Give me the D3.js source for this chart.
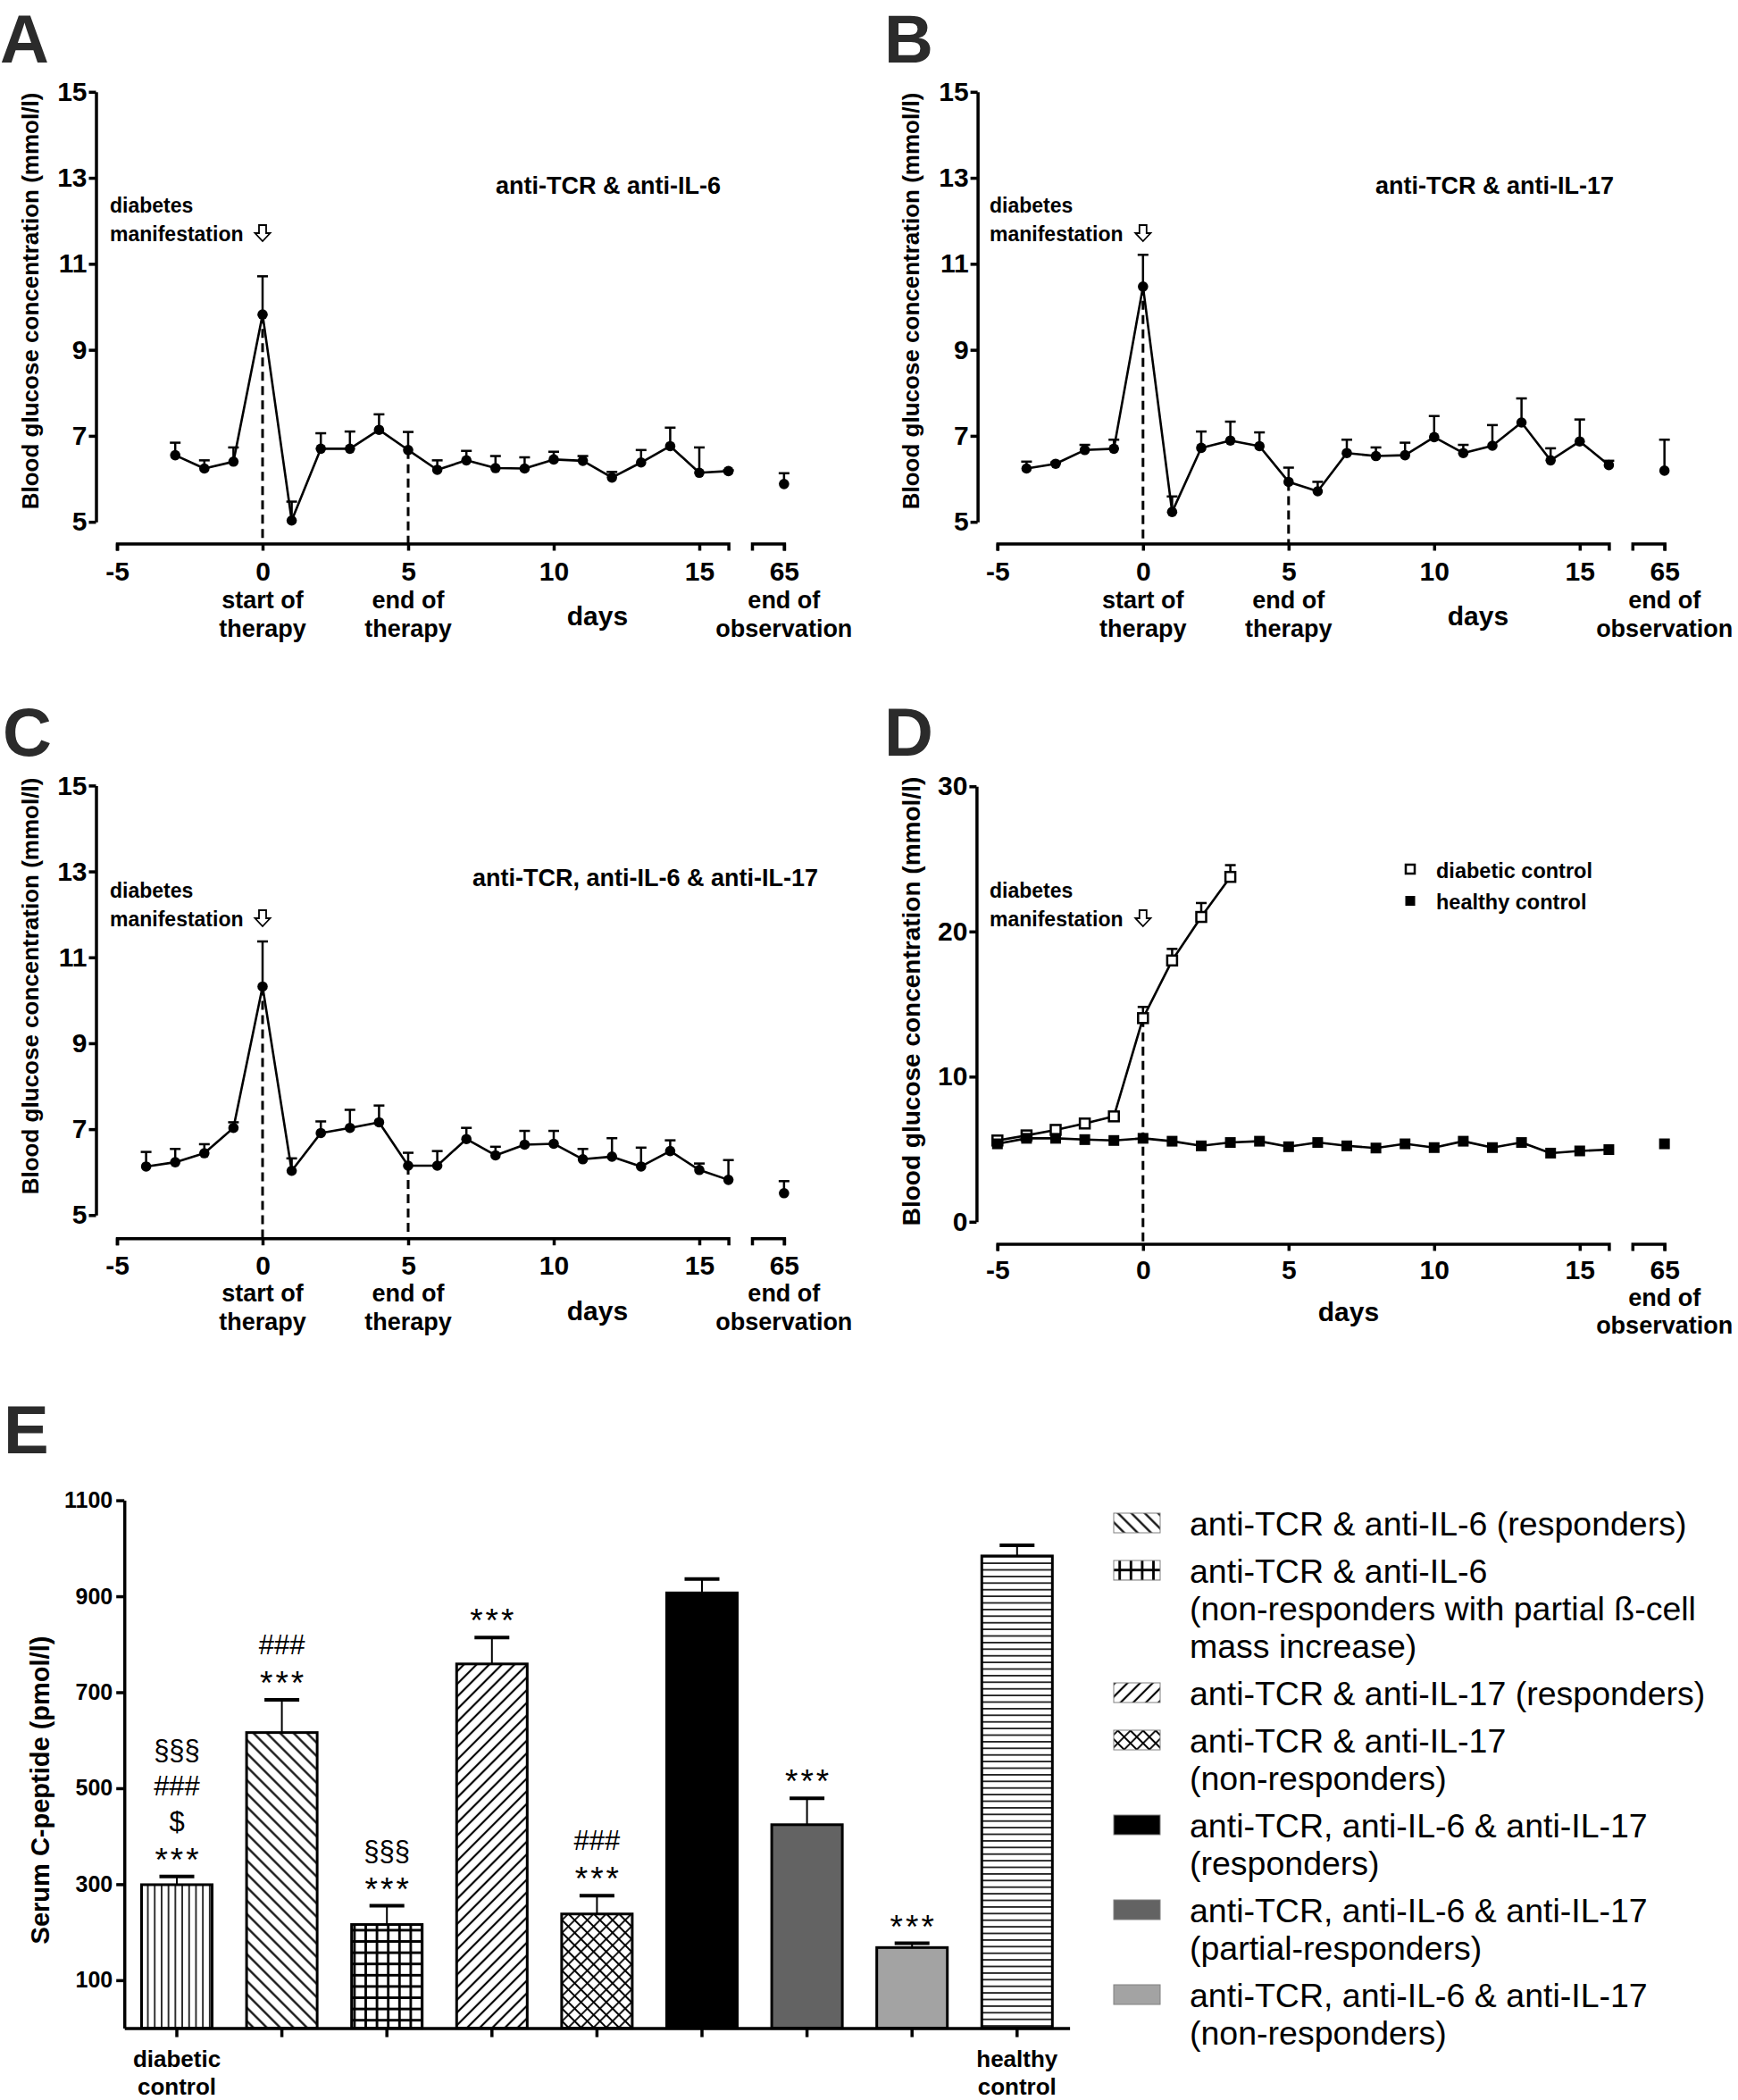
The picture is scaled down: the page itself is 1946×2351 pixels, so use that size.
<!DOCTYPE html>
<html><head><meta charset="utf-8">
<script src="https://cdn.jsdelivr.net/npm/d3@7"></script>
<style>
body{margin:0;background:#fff;}
svg text{font-family:"Liberation Sans",Arial,Helvetica,sans-serif;}
</style></head><body>
<svg id="fig" width="1946" height="2351" xmlns="http://www.w3.org/2000/svg"></svg>
<script>
// ---------------- DATA ----------------
// Panel A: anti-TCR & anti-IL-6
const aDays = [-3,-2,-1,0,1,2,3,4,5,6,7,8,9,10,11,12,13,14,15,16];
const aMean = [6.55,6.24,6.40,9.82,5.03,6.70,6.70,7.14,6.67,6.21,6.43,6.25,6.24,6.45,6.42,6.03,6.38,6.76,6.14,6.18];
const aSem  = [0.29,0.19,0.33,0.89,0.44,0.36,0.40,0.36,0.42,0.22,0.22,0.28,0.26,0.18,0.11,0.13,0.29,0.43,0.59,0.02];
const aEnd  = [65, 5.88, 0.25];   // day, mean, sem

// Panel B: anti-TCR & anti-IL-17
const bDays = [-4,-3,-2,-1,0,1,2,3,4,5,6,7,8,9,10,11,12,13,14,15,16];
const bMean = [6.24,6.35,6.67,6.70,10.47,5.23,6.72,6.89,6.76,5.93,5.71,6.60,6.53,6.55,6.97,6.60,6.77,7.31,6.43,6.87,6.32];
const bSem  = [0.16,0.03,0.12,0.21,0.74,0.36,0.38,0.44,0.32,0.33,0.22,0.31,0.20,0.29,0.49,0.19,0.48,0.56,0.28,0.51,0.10];
const bEnd  = [65, 6.19, 0.72];

// Panel C: anti-TCR, anti-IL-6 & anti-IL-17
const cDays = [-4,-3,-2,-1,0,1,2,3,4,5,6,7,8,9,10,11,12,13,14,15,16];
const cMean = [6.13,6.23,6.44,7.03,10.32,6.03,6.91,7.03,7.16,6.15,6.15,6.77,6.39,6.64,6.66,6.30,6.36,6.13,6.49,6.05,5.82];
const cSem  = [0.34,0.31,0.21,0.13,1.05,0.29,0.27,0.42,0.39,0.30,0.34,0.26,0.20,0.32,0.30,0.24,0.43,0.44,0.25,0.15,0.46];
const cEnd  = [65, 5.51, 0.28];

// Panel D: controls
const dDiabDays = [-5,-4,-3,-2,-1,0,1,2,3];
const dDiabMean = [5.60,5.95,6.33,6.77,7.26,14.03,18.00,21.00,23.76];
const dDiabSem  = [0,0,0,0,0,0.77,0.80,0.96,0.81];
const dHealthDays = [-5,-4,-3,-2,-1,0,1,2,3,4,5,6,7,8,9,10,11,12,13,14,15,16];
const dHealthMean = [5.37,5.75,5.75,5.66,5.60,5.75,5.55,5.23,5.46,5.55,5.17,5.46,5.23,5.08,5.37,5.11,5.55,5.11,5.46,4.73,4.88,4.97];
const dHealthSem  = [0,0,0,0,0,0,0,0,0,0,0,0,0,0,0,0,0,0,0,0,0,0];
const dHealthEnd  = [65, 5.37, 0];
const dLegend = ["diabetic control", "healthy control"];

const panelTitles = ["anti-TCR & anti-IL-6", "anti-TCR & anti-IL-17", "anti-TCR, anti-IL-6 & anti-IL-17"];
const xTicks = [-5, 0, 5, 10, 15];
const xTickBreak = [65];
const yTicksABC = [5, 7, 9, 11, 13, 15];
const yTicksD = [0, 10, 20, 30];

// Panel E: serum C-peptide
const eGroups = ["diabetic control",
  "anti-TCR & anti-IL-6 (responders)",
  "anti-TCR & anti-IL-6 (non-responders)",
  "anti-TCR & anti-IL-17 (responders)",
  "anti-TCR & anti-IL-17 (non-responders)",
  "anti-TCR, anti-IL-6 & anti-IL-17 (responders)",
  "anti-TCR, anti-IL-6 & anti-IL-17 (partial-responders)",
  "anti-TCR, anti-IL-6 & anti-IL-17 (non-responders)",
  "healthy control"];
const eValues = [299, 616, 216, 759, 238, 907, 424, 168, 984];
const eSem    = [17, 68, 39, 55, 38, 29, 55, 9, 22];
const eSig    = [["§§§","###","$","***"], ["###","***"], ["§§§","***"], ["***"], ["###","***"], [], ["***"], ["***"], []];
const eAxisLabels = [["diabetic","control"], [], [], [], [], [], [], [], ["healthy","control"]];
const eTicks = [100, 300, 500, 700, 900, 1100];
const eLegend = [
  ["anti-TCR & anti-IL-6 (responders)"],
  ["anti-TCR & anti-IL-6", "(non-responders with partial ß-cell", "mass increase)"],
  ["anti-TCR & anti-IL-17 (responders)"],
  ["anti-TCR & anti-IL-17", "(non-responders)"],
  ["anti-TCR, anti-IL-6 & anti-IL-17", "(responders)"],
  ["anti-TCR, anti-IL-6 & anti-IL-17", "(partial-responders)"],
  ["anti-TCR, anti-IL-6 & anti-IL-17", "(non-responders)"]
];

// ---------------- STYLE ----------------
const eBarFills = ["url(#pVert)","url(#pBack)","url(#pGrid)","url(#pFwd)","url(#pCross)","#000","#636363","#a3a3a3","url(#pHoriz)"];
const eLegendFills = eBarFills.slice(1, 8);

const svg = d3.select("#fig");
const defs = svg.append("defs");
function pat(id, w, h, rot, d, sw) {
  const p = defs.append("pattern").attr("id", id).attr("patternUnits", "userSpaceOnUse")
    .attr("width", w).attr("height", h);
  if (rot) p.attr("patternTransform", `rotate(${rot})`);
  p.append("rect").attr("width", w).attr("height", h).attr("fill", "#fff");
  p.append("path").attr("d", d).attr("stroke", "#000").attr("stroke-width", sw).attr("fill", "none");
}
pat("pVert", 7.7, 10, 0, "M3.85,-1V11", 1.6);
pat("pHoriz", 10, 7.4, 0, "M-1,3.7H11", 1.6);
pat("pBack", 10.6, 10, -45, "M5.3,-1V11", 2.2);
pat("pFwd", 10, 10, 45, "M5,-1V11", 2.2);
pat("pCross", 10, 10, 45, "M5,-1V11M-1,5H11", 1.8);
pat("pGrid", 12.6, 12.6, 0, "M6.3,-1V13.6M-1,6.3H13.6", 2.8);

function styleAxis(sel, fs) {
  sel.select(".domain").attr("stroke", "#000").attr("stroke-width", 3.5);
  sel.selectAll(".tick line").attr("stroke", "#000").attr("stroke-width", 3.5);
  sel.selectAll(".tick text").attr("fill", "#000").style("font-size", fs + "px").style("font-weight", "bold");
}

const DAY_W = 32.6;
const LETTER_SIZE = "76px";

function drawLinePanel(cfg) {
  const g = svg.append("g");
  const x = d3.scaleLinear().domain([-5, 16]).range([cfg.x0, cfg.x0 + 21 * DAY_W]);
  const xb = d3.scaleLinear().domain([63.9, 65]).range([x(16) + 26.4, x(16) + 26.4 + 1.1 * DAY_W]);
  const X = d => d > 16 ? xb(d) : x(d);
  const y = d3.scaleLinear().domain(cfg.yDomain).range([cfg.yBottom, cfg.yTop]);

  // panel letter
  g.append("text").attr("x", cfg.letterX).attr("y", cfg.letterY).text(cfg.letter)
    .style("font-size", LETTER_SIZE).style("font-weight", "bold").attr("fill", "#2b2b2b");

  // y axis
  const ya = g.append("g").attr("transform", `translate(${cfg.yAxisX},0)`)
    .call(d3.axisLeft(y).tickValues(cfg.yTicks).tickSize(8).tickSizeOuter(0).tickPadding(2).tickFormat(d => String(d)));
  styleAxis(ya, 30);

  // x axis (two segments)
  const xa = g.append("g").attr("transform", `translate(0,${cfg.xAxisY})`)
    .call(d3.axisBottom(x).tickValues(xTicks).tickSize(8).tickSizeOuter(8).tickFormat(d => String(d)));
  const xa2 = g.append("g").attr("transform", `translate(0,${cfg.xAxisY})`)
    .call(d3.axisBottom(xb).tickValues(xTickBreak).tickSize(8).tickSizeOuter(8).tickFormat(d => String(d)));
  [xa, xa2].forEach(a => { styleAxis(a, 30); a.selectAll(".tick text").attr("dy", null).attr("y", cfg.tickLabelDy); });

  // labels under the axis
  cfg.under.forEach(u => {
    u.lines.forEach((l, i) => {
      g.append("text").attr("x", X(u.day)).attr("y", cfg.xAxisY + cfg.underDy[i]).attr("text-anchor", "middle")
        .style("font-size", "27px").style("font-weight", "bold").text(l);
    });
  });
  g.append("text").attr("x", cfg.daysX).attr("y", cfg.daysY).attr("text-anchor", "middle")
    .style("font-size", "30px").style("font-weight", "bold").text("days");

  // y title
  g.append("text").attr("transform", `translate(${cfg.yTitleX},${cfg.yTitleY}) rotate(-90)`)
    .attr("text-anchor", "middle").attr("dominant-baseline", "central")
    .style("font-size", cfg.yTitleSize).style("font-weight", "bold").text("Blood glucose concentration (mmol/l)");

  // subtitle
  if (cfg.title) g.append("text").attr("x", cfg.titleX).attr("y", cfg.titleY)
    .style("font-size", "27px").style("font-weight", "bold").text(cfg.title);

  // diabetes manifestation
  g.append("text").attr("x", cfg.diabX).attr("y", cfg.diabY).style("font-size", "23px").style("font-weight", "bold").text("diabetes");
  g.append("text").attr("x", cfg.diabX).attr("y", cfg.diabY + 32).style("font-size", "23px").style("font-weight", "bold").text("manifestation");
  const ax = x(0), at = cfg.diabY + 14;
  g.append("path").attr("d", `M${ax-4},${at}H${ax+4}V${at+9}H${ax+8.5}L${ax},${at+18}L${ax-8.5},${at+9}H${ax-4}Z`)
    .attr("fill", "#fff").attr("stroke", "#000").attr("stroke-width", 1.8).attr("stroke-linejoin", "miter");

  // dashed markers
  const s0 = cfg.series[0];
  cfg.dashDays.forEach(d => {
    const v = s0.mean[s0.days.indexOf(d)];
    g.append("line").attr("x1", x(d)).attr("x2", x(d)).attr("y1", y(v)).attr("y2", cfg.xAxisY)
      .attr("stroke", "#000").attr("stroke-width", 3).attr("stroke-dasharray", "10,6");
  });

  // series
  cfg.series.forEach(s => {
    const pts = s.days.map((d, i) => ({ d, v: s.mean[i], e: s.sem[i] }));
    if (s.end) pts.push({ d: s.end[0], v: s.end[1], e: s.end[2], sep: true });
    const main = pts.filter(p => !p.sep);
    pts.filter(p => p.e > 0).forEach(p => {
      g.append("line").attr("x1", X(p.d)).attr("x2", X(p.d)).attr("y1", y(p.v)).attr("y2", y(p.v + p.e))
        .attr("stroke", "#000").attr("stroke-width", 2.5);
      g.append("line").attr("x1", X(p.d) - 6).attr("x2", X(p.d) + 6).attr("y1", y(p.v + p.e)).attr("y2", y(p.v + p.e))
        .attr("stroke", "#000").attr("stroke-width", 2.5);
    });
    g.append("path").datum(main).attr("d", d3.line().x(p => X(p.d)).y(p => y(p.v)))
      .attr("fill", "none").attr("stroke", "#000").attr("stroke-width", 2.6).attr("stroke-linejoin", "round");
    pts.forEach(p => {
      if (s.marker === "circle") {
        g.append("circle").attr("cx", X(p.d)).attr("cy", y(p.v)).attr("r", 5.8).attr("fill", "#000");
      } else if (s.marker === "open") {
        g.append("rect").attr("x", X(p.d) - 5.5).attr("y", y(p.v) - 5.5).attr("width", 11).attr("height", 11)
          .attr("fill", "#fff").attr("stroke", "#000").attr("stroke-width", 2.5);
      } else {
        g.append("rect").attr("x", X(p.d) - 6).attr("y", y(p.v) - 6).attr("width", 12).attr("height", 12).attr("fill", "#000");
      }
    });
  });

  // legend (panel D)
  if (cfg.legend) {
    cfg.legend.forEach((l, i) => {
      const ly = cfg.legendY + i * 35;
      if (i === 0) g.append("rect").attr("x", cfg.legendX - 5).attr("y", ly - 15).attr("width", 10).attr("height", 10)
        .attr("fill", "#fff").attr("stroke", "#000").attr("stroke-width", 2.5);
      else g.append("rect").attr("x", cfg.legendX - 5.5).attr("y", ly - 15).attr("width", 11).attr("height", 11).attr("fill", "#000");
      g.append("text").attr("x", cfg.legendX + 29).attr("y", ly).style("font-size", "23.5px").style("font-weight", "bold").text(l);
    });
  }
}

const underTherapy = [{ day: 0, lines: ["start of", "therapy"] }, { day: 5, lines: ["end of", "therapy"] }, { day: 65, lines: ["end of", "observation"] }];

drawLinePanel({
  letter: "A", letterX: 0, letterY: 70,
  x0: 131, yAxisX: 107.5, yTop: 102.8, yBottom: 584.2, xAxisY: 608.5, yDomain: [5, 15], yTicks: yTicksABC,
  tickLabelDy: 41, under: underTherapy, underDy: [72, 104], daysX: 669, daysY: 700,
  yTitleX: 34, yTitleY: 337, yTitleSize: "26px", title: panelTitles[0], titleX: 555, titleY: 217,
  diabX: 123, diabY: 238, dashDays: [0, 5],
  series: [{ days: aDays, mean: aMean, sem: aSem, end: aEnd, marker: "circle" }]
});
drawLinePanel({
  letter: "B", letterX: 990, letterY: 70,
  x0: 1116.8, yAxisX: 1094.6, yTop: 102.8, yBottom: 584.2, xAxisY: 608.5, yDomain: [5, 15], yTicks: yTicksABC,
  tickLabelDy: 41, under: underTherapy, underDy: [72, 104], daysX: 1655, daysY: 700,
  yTitleX: 1020, yTitleY: 337, yTitleSize: "26px", title: panelTitles[1], titleX: 1540, titleY: 217,
  diabX: 1108, diabY: 238, dashDays: [0, 5],
  series: [{ days: bDays, mean: bMean, sem: bSem, end: bEnd, marker: "circle" }]
});
drawLinePanel({
  letter: "C", letterX: 3, letterY: 846,
  x0: 131, yAxisX: 107.5, yTop: 879.4, yBottom: 1360.3, xAxisY: 1386.2, yDomain: [5, 15], yTicks: yTicksABC,
  tickLabelDy: 41, under: underTherapy, underDy: [71, 103], daysX: 669, daysY: 1478,
  yTitleX: 34, yTitleY: 1104, yTitleSize: "26px", title: panelTitles[2], titleX: 529, titleY: 992,
  diabX: 123, diabY: 1005, dashDays: [0, 5],
  series: [{ days: cDays, mean: cMean, sem: cSem, end: cEnd, marker: "circle" }]
});
drawLinePanel({
  letter: "D", letterX: 990, letterY: 846,
  x0: 1116.8, yAxisX: 1093.4, yTop: 880.3, yBottom: 1367.8, xAxisY: 1392.4, yDomain: [0, 30], yTicks: yTicksD,
  tickLabelDy: 40, under: [{ day: 65, lines: ["end of", "observation"] }], underDy: [70, 101], daysX: 1510, daysY: 1479,
  yTitleX: 1020, yTitleY: 1121, yTitleSize: "28px", title: null,
  diabX: 1108, diabY: 1005, dashDays: [0],
  series: [
    { days: dDiabDays, mean: dDiabMean, sem: dDiabSem, marker: "open" },
    { days: dHealthDays, mean: dHealthMean, sem: dHealthSem, end: dHealthEnd, marker: "filled" }
  ],
  legend: dLegend, legendX: 1579, legendY: 983
});

// ---------------- PANEL E ----------------
const eg = svg.append("g");
eg.append("text").attr("x", 4).attr("y", 1627).text("E").style("font-size", LETTER_SIZE).style("font-weight", "bold").attr("fill", "#2b2b2b");
const ex = d3.scaleBand().domain(eGroups).range([139.2, 1197.6]).paddingInner(0.328).paddingOuter(0.164);
const ey = d3.scaleLinear().domain([0, 1100]).range([2270.6, 1679.6]);
const bw = ex.bandwidth();

eGroups.forEach((gname, i) => {
  const x0 = ex(gname), cx = x0 + bw / 2, v = eValues[i], e = eSem[i];
  eg.append("line").attr("x1", cx).attr("x2", cx).attr("y1", ey(v)).attr("y2", ey(v + e)).attr("stroke", "#000").attr("stroke-width", 2);
  eg.append("line").attr("x1", cx - 19.5).attr("x2", cx + 19.5).attr("y1", ey(v + e)).attr("y2", ey(v + e)).attr("stroke", "#000").attr("stroke-width", 4);
  eg.append("rect").attr("x", x0).attr("y", ey(v)).attr("width", bw).attr("height", ey(0) - ey(v))
    .attr("fill", eBarFills[i]).attr("stroke", "#000").attr("stroke-width", 3);
  const sig = eSig[i];
  sig.forEach((s, j) => {
    const k = sig.length - 1 - j;
    const isStar = s === "***";
    eg.append("text").attr("x", cx + (isStar ? 1.5 : 0)).attr("y", ey(v + e) - (isStar ? 6 : 11) - k * 40).attr("text-anchor", "middle")
      .style("font-size", isStar ? "37px" : "31px").style("letter-spacing", isStar ? "3px" : "0px").text(s);
  });
  eAxisLabels[i].forEach((l, j) => {
    eg.append("text").attr("x", cx).attr("y", 2314 + j * 31).attr("text-anchor", "middle")
      .style("font-size", "26px").style("font-weight", "bold").text(l);
  });
});

const eya = eg.append("g").attr("transform", "translate(139.2,0)")
  .call(d3.axisLeft(ey).tickValues(eTicks).tickSize(9).tickSizeOuter(0).tickPadding(4).tickFormat(d => String(d)));
styleAxis(eya, 25);
const exa = eg.append("g").attr("transform", `translate(0,${ey(0)})`)
  .call(d3.axisBottom(ex).tickSize(10).tickSizeOuter(0).tickFormat(""));
styleAxis(exa, 25);

eg.append("text").attr("transform", "translate(45,2004) rotate(-90)").attr("text-anchor", "middle").attr("dominant-baseline", "central")
  .style("font-size", "29px").style("font-weight", "bold").text("Serum C-peptide (pmol/l)");

// legend E
let lb = 1719;
eLegend.forEach((lines, i) => {
  eg.append("rect").attr("x", 1247).attr("y", lb - 25).attr("width", 52).attr("height", 22)
    .attr("fill", eLegendFills[i]).attr("stroke", "#808080").attr("stroke-width", 1);
  lines.forEach((l, j) => {
    eg.append("text").attr("x", 1332).attr("y", lb + j * 42).style("font-size", "37.5px").text(l);
  });
  lb += (lines.length - 1) * 42 + 53;
});
</script>
</body></html>
